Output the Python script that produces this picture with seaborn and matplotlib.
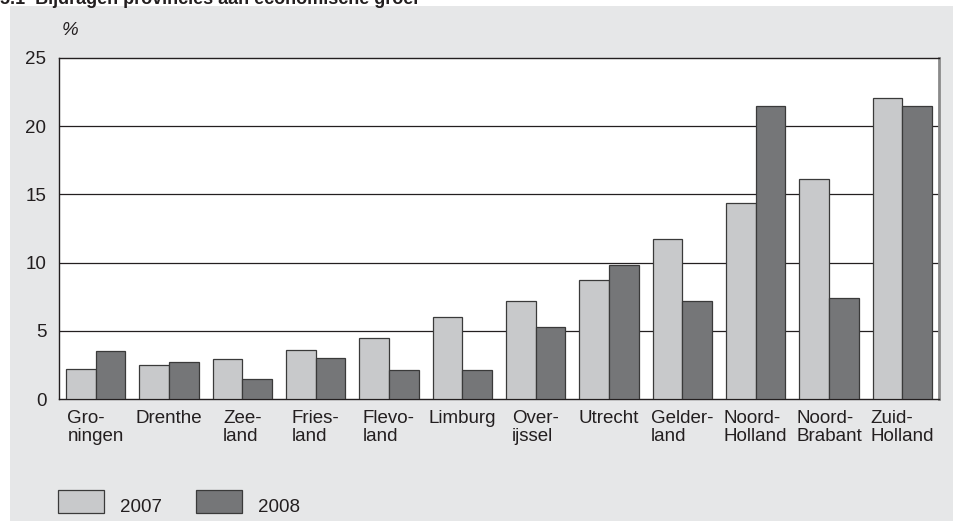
import matplotlib
matplotlib.use("Agg")
from matplotlib import pyplot as plt
from matplotlib.patches import Rectangle
import numpy as np
import pandas as pd
import seaborn as sns

provinces = ['Gro-\nningen', 'Drenthe', 'Zee-\nland', 'Fries-\nland', 'Flevo-\nland',
             'Limburg', 'Over-\nijssel', 'Utrecht', 'Gelder-\nland', 'Noord-\nHolland',
             'Noord-\nBrabant', 'Zuid-\nHolland']
share_2007 = [2.2, 2.5, 2.9, 3.6, 4.5, 6.0, 7.2, 8.7, 11.7, 14.4, 16.1, 22.1]
share_2008 = [3.5, 2.7, 1.5, 3.0, 2.1, 2.1, 5.3, 9.8, 7.2, 21.5, 7.4, 21.5]
years = ['2007', '2008']

df = pd.DataFrame({
    'provincie': provinces * 2,
    'jaar': [years[0]] * 12 + [years[1]] * 12,
    'aandeel': share_2007 + share_2008,
})

sns.set_style('white')
plt.rcParams['font.family'] = ['Liberation Sans', 'DejaVu Sans']
fs = 13.5
plt.rcParams['font.size'] = fs

light = '#c8c9cb'
dark = '#757678'
panel = '#e6e7e8'
ink = '#231f20'

fig = plt.figure(figsize=(9.54, 5.21), dpi=100, facecolor='white')
fig.patches.append(Rectangle((10 / 954, 0), 1, (521 - 6) / 521, transform=fig.transFigure,
                             facecolor=panel, edgecolor='none', zorder=0))
fig.text(0.0, 1.0, '5.1  Bijdragen provincies aan economische groei', fontsize=13,
         fontweight='bold', color=ink, va='center', ha='left')

ax = fig.add_axes([59 / 954, 1 - 399 / 521, (939 - 59) / 954, (399 - 58) / 521])
ax.set_zorder(2)
sns.barplot(data=df, x='provincie', y='aandeel', hue='jaar', palette=[light, dark],
            width=0.81, edgecolor='#3a3a3a', linewidth=0.9, legend=False, ax=ax, zorder=3)

ax.set_facecolor('white')
ax.set_xlim(-0.5, 11.5)
ax.set_ylim(0, 25)
ax.set_yticks([0, 5, 10, 15, 20, 25])
for y in [5, 10, 15, 20]:
    ax.axhline(y, color=ink, linewidth=0.9, zorder=1)
for s in ax.spines.values():
    s.set_color(ink)
    s.set_linewidth(1.0)
ax.spines['right'].set_color('#8a8a8a')
ax.spines['right'].set_linewidth(2.0)

ax.set_xticks(np.arange(12))
ax.set_xticklabels(provinces, ha='center', va='top', multialignment='left',
                   linespacing=1.1, color=ink)
ax.tick_params(axis='x', length=0, pad=8)
ax.tick_params(axis='y', length=0, pad=9, colors=ink)
ax.set_xlabel('')
ax.set_ylabel('')
ax.text(0.003, 1.08, '%', transform=ax.transAxes, fontstyle='italic', fontsize=fs,
        color=ink, ha='left', va='center')

# legend drawn as patches in figure space
for i, (lab, col) in enumerate(zip(years, [light, dark])):
    x0 = (58 + i * 138) / 954
    fig.patches.append(Rectangle((x0, 1 - 513 / 521), 46 / 954, 23 / 521,
                                 transform=fig.transFigure, facecolor=col,
                                 edgecolor='#3a3a3a', linewidth=0.9, zorder=2))
    fig.text(x0 + 62 / 954, 1 - 507 / 521, lab, fontsize=fs, color=ink,
             ha='left', va='center')

fig.savefig('out.png', dpi=100, facecolor=fig.get_facecolor())
